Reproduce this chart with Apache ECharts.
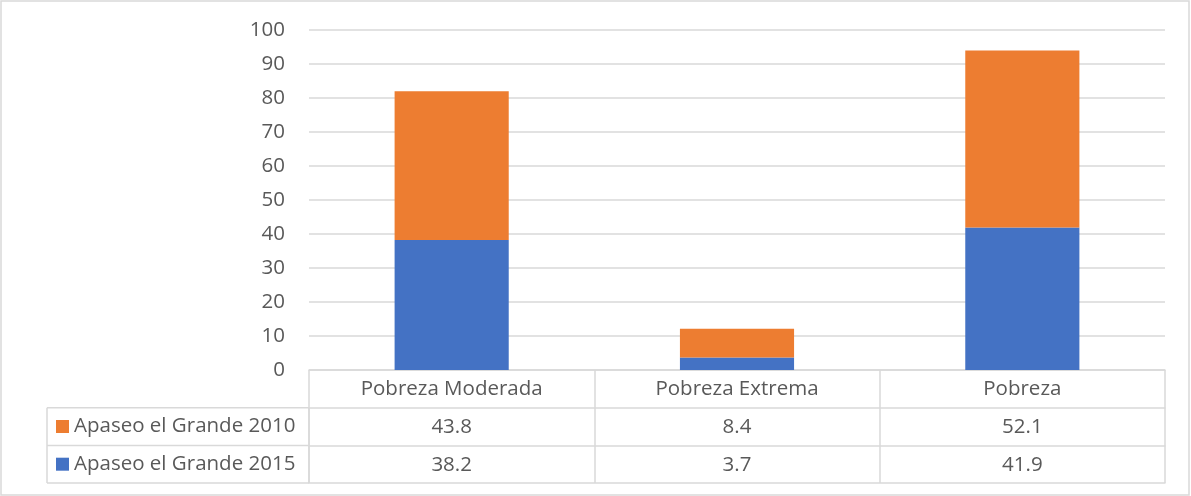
<!DOCTYPE html>
<html>
<head>
<meta charset="utf-8">
<script src="https://cdn.jsdelivr.net/npm/echarts@6/dist/echarts.min.js"></script>
<style>
  html, body { margin: 0; padding: 0; background: #fff; }
  #chart { width: 1191px; height: 496px; }
</style>
</head>
<body>
<div id="chart"></div>
<script>
// datos
var categories = ['Pobreza Moderada', 'Pobreza Extrema', 'Pobreza'];
var values2010 = [43.8, 8.4, 52.1];
var values2015 = [38.2, 3.7, 41.9];
var seriesNames = ['Apaseo el Grande 2010', 'Apaseo el Grande 2015'];

var txt = '#595959';
var border = '#d9d9d9';
var fontFam = '"Open Sans", "Noto Sans", sans-serif';
var fs = 20.5;
var rowH = 37.7;

var myChart = echarts.init(document.getElementById('chart'));

// fila de tabla debajo del eje (linea + separadores verticales)
function tableAxis(data, offset, showLabel) {
  return {
    type: 'category',
    position: 'bottom',
    offset: offset,
    data: data,
    boundaryGap: true,
    axisLine: { show: true, lineStyle: { color: border, width: 1.5 } },
    axisTick: {
      show: showLabel, interval: 0, length: rowH, inside: false,
      lineStyle: { color: border, width: 1.5 }
    },
    axisLabel: {
      show: showLabel, interval: 0, margin: 9,
      color: txt, fontSize: fs, fontFamily: fontFam
    },
    splitLine: { show: false }
  };
}

var option = {
  animation: false,
  backgroundColor: '#fff',
  grid: { left: 309, right: 26, top: 30, bottom: 126, containLabel: false },
  legend: {
    orient: 'vertical',
    left: 56,
    top: 415.5,
    padding: 0,
    data: seriesNames,
    icon: 'rect',
    itemWidth: 13,
    itemHeight: 13,
    itemGap: rowH - 22,
    selectedMode: false,
    textStyle: { color: txt, fontSize: fs, fontFamily: fontFam, lineHeight: 22 }
  },
  xAxis: [
    tableAxis(categories, 0, true),
    tableAxis(values2010.map(String), rowH, true),
    tableAxis(values2015.map(String), rowH * 2, true),
    tableAxis(categories, rowH * 3, false)
  ],
  yAxis: {
    type: 'value',
    min: 0,
    max: 100,
    interval: 10,
    axisLine: { show: false },
    axisTick: { show: false },
    axisLabel: { color: txt, fontSize: fs, fontFamily: fontFam, margin: 24 },
    splitLine: { show: true, lineStyle: { color: border, width: 1.5 } }
  },
  series: [
    {
      name: seriesNames[1],
      type: 'bar',
      stack: 'total',
      xAxisIndex: 0,
      barWidth: '40%',
      itemStyle: { color: '#4472C4' },
      data: values2015
    },
    {
      name: seriesNames[0],
      type: 'bar',
      stack: 'total',
      xAxisIndex: 0,
      barWidth: '40%',
      itemStyle: { color: '#ED7D31' },
      data: values2010
    }
  ],
  graphic: [
    // borde exterior
    { type: 'rect', shape: { x: 1, y: 1, width: 1188, height: 494 },
      style: { fill: 'none', stroke: border, lineWidth: 1.5 }, silent: true },
    // columna de leyenda de la tabla
    { type: 'line', shape: { x1: 47, y1: 370 + rowH, x2: 309, y2: 370 + rowH },
      style: { stroke: border, lineWidth: 1.5 } },
    { type: 'line', shape: { x1: 47, y1: 370 + rowH * 2, x2: 309, y2: 370 + rowH * 2 },
      style: { stroke: border, lineWidth: 1.5 } },
    { type: 'line', shape: { x1: 47, y1: 370 + rowH * 3, x2: 309, y2: 370 + rowH * 3 },
      style: { stroke: border, lineWidth: 1.5 } },
    { type: 'line', shape: { x1: 47, y1: 370 + rowH, x2: 47, y2: 370 + rowH * 3 },
      style: { stroke: border, lineWidth: 1.5 } },
    { type: 'line', shape: { x1: 309, y1: 370 + rowH, x2: 309, y2: 370 + rowH * 3 },
      style: { stroke: border, lineWidth: 1.5 } }
  ]
};
option && myChart.setOption(option);
</script>
</body>
</html>
